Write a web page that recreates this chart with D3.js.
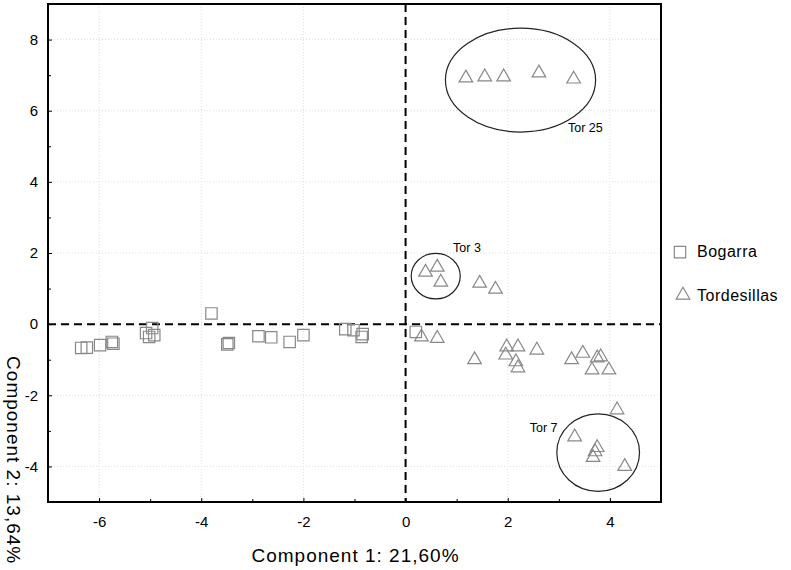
<!DOCTYPE html>
<html>
<head>
<meta charset="utf-8">
<script src="https://cdn.jsdelivr.net/npm/d3@7"></script>
<style>
  body { margin: 0; background: #fff; }
  text { font-family: "Liberation Sans", Arial, sans-serif; }
</style>
</head>
<body>
<svg id="plot"></svg>
<script>
// Component scores
const bogarraX = [-6.35, -6.24, -5.98, -5.75, -5.72, -5.08, -4.96, -5.02, -4.92, -3.8, -3.49, -3.46,
                  -2.88, -2.63, -2.27, -2.0, -1.18, -1.02, -0.86, -0.84, 0.2];
const bogarraY = [-0.67, -0.66, -0.59, -0.5, -0.55, -0.25, -0.11, -0.36, -0.31, 0.3, -0.57, -0.53,
                  -0.34, -0.37, -0.5, -0.31, -0.14, -0.17, -0.36, -0.28, -0.22];

const tordX = [0.39, 0.62, 0.69, 1.45, 1.76,
               0.31, 0.62, 1.35, 1.98, 1.96, 2.2, 2.16, 2.2, 2.57, 3.25, 3.47, 3.82, 3.75, 3.65, 3.98,
               4.14, 3.31, 3.75, 3.71, 3.67, 4.29,
               1.18, 1.55, 1.92, 2.61, 3.29];
const tordY = [1.46, 1.6, 1.18, 1.15, 0.98,
               -0.36, -0.4, -1.0, -0.64, -0.87, -0.64, -1.06, -1.23, -0.73, -1.0, -0.82, -0.92, -0.95, -1.29, -1.29,
               -2.41, -3.17, -3.47, -3.59, -3.75, -4.0,
               6.92, 6.95, 6.95, 7.06, 6.89];

// Highlighted groups (ellipses in data units)
const groupNames = ["Tor 25", "Tor 3", "Tor 7"];
const groupCx = [2.25, 0.59, 3.77];
const groupCy = [6.86, 1.35, -3.61];
const groupRx = [1.47, 0.48, 0.81];
const groupRy = [1.46, 0.64, 1.09];
const labelX = [3.18, 0.93, 2.43];
const labelY = [5.41, 2.04, -3.04];

const seriesNames = ["Bogarra", "Tordesillas"];
const xTicks = [-6, -4, -2, 0, 2, 4];
const yTicks = [-4, -2, 0, 2, 4, 6, 8];
const xMinor = [-7, -5, -3, -1, 1, 3, 5];
const yMinor = [-5, -3, -1, 1, 3, 5, 7, 9];

const W = 791, H = 570;
const margin = {top: 4, right: 130, bottom: 68, left: 48};
const width = W - margin.left - margin.right,
      height = H - margin.top - margin.bottom;

const x = d3.scaleLinear().domain([-7, 5]).range([0, width]);
const y = d3.scaleLinear().domain([-5, 9]).range([height, 0]);

const svg = d3.select("#plot")
    .attr("width", W)
    .attr("height", H)
  .append("g")
    .attr("transform", "translate(" + margin.left + "," + margin.top + ")");

// faint dotted grid
svg.append("g").selectAll("line").data(xTicks).enter().append("line")
    .attr("x1", d => x(d)).attr("x2", d => x(d))
    .attr("y1", 0).attr("y2", height)
    .attr("stroke", "#ddd").attr("stroke-dasharray", "1,2");
svg.append("g").selectAll("line").data(yTicks).enter().append("line")
    .attr("y1", d => y(d)).attr("y2", d => y(d))
    .attr("x1", 0).attr("x2", width)
    .attr("stroke", "#ddd").attr("stroke-dasharray", "1,2");

// axes (plain hyphen for negatives, like the original)
const fmt = d => String(d);
svg.append("g")
    .attr("transform", "translate(0," + height + ")")
    .call(d3.axisBottom(x).tickValues(xTicks).tickSize(-4).tickPadding(14).tickFormat(fmt));
svg.append("g")
    .attr("transform", "translate(0," + height + ")")
    .call(d3.axisBottom(x).tickValues(xMinor).tickSize(-3).tickFormat(""));
svg.append("g")
    .call(d3.axisLeft(y).tickValues(yTicks).tickSize(-4).tickPadding(10).tickFormat(fmt));
svg.append("g")
    .call(d3.axisLeft(y).tickValues(yMinor).tickSize(-3).tickFormat(""));
svg.selectAll(".domain").remove();
svg.selectAll(".tick line").attr("stroke", "#000");
svg.selectAll(".tick text").attr("font-size", 15).attr("fill", "#000")
    .style("font-family", "'Liberation Sans', Arial, sans-serif");

// zero lines
svg.append("line")
    .attr("x1", x(0)).attr("x2", x(0)).attr("y1", 0).attr("y2", height)
    .attr("stroke", "#000").attr("stroke-width", 2).attr("stroke-dasharray", "8,5");
svg.append("line")
    .attr("y1", y(0)).attr("y2", y(0)).attr("x1", 0).attr("x2", width)
    .attr("stroke", "#000").attr("stroke-width", 2).attr("stroke-dasharray", "8,5");

// frame
svg.append("rect")
    .attr("width", width).attr("height", height)
    .attr("fill", "none").attr("stroke", "#000").attr("stroke-width", 2);

const square = d3.symbol().type(d3.symbolSquare).size(130);
const triangle = d3.symbol().type(d3.symbolTriangle).size(80);

// Bogarra points
svg.append("g").selectAll("path")
    .data(d3.range(bogarraX.length)).enter().append("path")
    .attr("d", square)
    .attr("transform", i => "translate(" + x(bogarraX[i]) + "," + y(bogarraY[i]) + ")")
    .attr("fill", "none").attr("stroke", "#888").attr("stroke-width", 1.2);

// Tordesillas points
svg.append("g").selectAll("path")
    .data(d3.range(tordX.length)).enter().append("path")
    .attr("d", triangle)
    .attr("transform", i => "translate(" + x(tordX[i]) + "," + y(tordY[i]) + ")")
    .attr("fill", "none").attr("stroke", "#888").attr("stroke-width", 1.2);

// group ellipses
svg.append("g").selectAll("ellipse")
    .data(d3.range(groupNames.length)).enter().append("ellipse")
    .attr("cx", i => x(groupCx[i])).attr("cy", i => y(groupCy[i]))
    .attr("rx", i => x(groupRx[i]) - x(0)).attr("ry", i => y(0) - y(groupRy[i]))
    .attr("fill", "none").attr("stroke", "#222").attr("stroke-width", 1.2);

// group labels
svg.append("g").selectAll("text")
    .data(d3.range(groupNames.length)).enter().append("text")
    .attr("x", i => x(labelX[i])).attr("y", i => y(labelY[i]))
    .attr("font-size", 12.5).attr("fill", "#000")
    .text(i => groupNames[i]);

// legend
const legend = svg.append("g").attr("transform", "translate(" + (width + 19) + "," + (y(0) - 72) + ")");
legend.append("path").attr("d", square).attr("transform", "translate(0,0)")
    .attr("fill", "none").attr("stroke", "#888").attr("stroke-width", 1.2);
legend.append("path").attr("d", triangle).attr("transform", "translate(3,43)")
    .attr("fill", "none").attr("stroke", "#888").attr("stroke-width", 1.2);
legend.selectAll("text").data(seriesNames).enter().append("text")
    .attr("x", 17).attr("y", (d, i) => 5 + i * 44)
    .attr("font-size", 16).attr("letter-spacing", 0.5).attr("fill", "#000")
    .text(d => d);

// axis titles
svg.append("text")
    .attr("x", width / 2 + 1).attr("y", height + 60)
    .attr("text-anchor", "middle").attr("font-size", 19).attr("letter-spacing", 1)
    .text("Component 1: 21,60%");
svg.append("text")
    .attr("transform", "translate(" + (-41) + "," + (y(0) + 136) + ") rotate(90)")
    .attr("text-anchor", "middle").attr("font-size", 19).attr("letter-spacing", 1)
    .text("Component 2: 13,64%");
</script>
</body>
</html>
